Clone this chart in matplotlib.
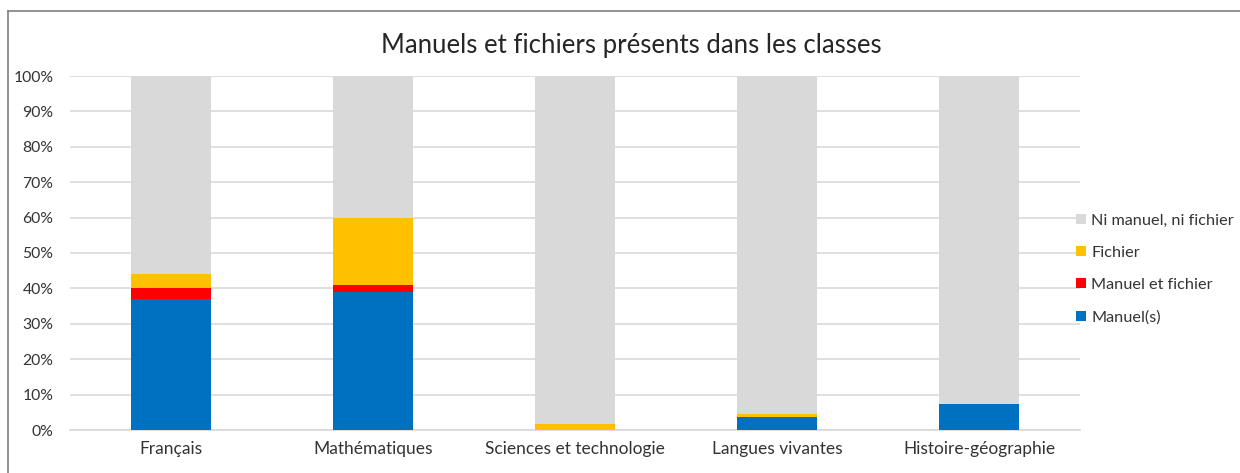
import matplotlib
matplotlib.use("Agg")
import matplotlib.pyplot as plt
from matplotlib.lines import Line2D
import numpy as np

plt.rcParams['font.family'] = ['Lato', 'DejaVu Sans']

categories = ["Français", "Mathématiques", "Sciences et technologie", "Langues vivantes", "Histoire-géographie"]
manuels = [37, 39, 0, 3.7, 7.4]
manuel_et_fichier = [3, 2, 0, 0, 0]
fichier = [4, 19, 1.8, 0.9, 0]
series_names = ["Manuel(s)", "Manuel et fichier", "Fichier", "Ni manuel, ni fichier"]
colors = ["#0070C0", "#FF0000", "#FFC000", "#D9D9D9"]
yticks = [0, 10, 20, 30, 40, 50, 60, 70, 80, 90, 100]
title = "Manuels et fichiers présents dans les classes"

ni = [100 - a - b - c for a, b, c in zip(manuels, manuel_et_fichier, fichier)]
series = [manuels, manuel_et_fichier, fichier, ni]

W, H = 1240, 473
fig = plt.figure(figsize=(W / 100, H / 100), dpi=100)
ax = fig.add_axes([70 / W, (H - 430) / H, (1080 - 70) / W, (430 - 76) / H])

x = np.arange(len(categories))
bottom = np.zeros(len(categories))
handles = []
for vals, name, col in zip(series, series_names, colors):
    b = ax.bar(x, vals, bottom=bottom, width=0.4, color=col, label=name, zorder=3)
    handles.append(b)
    bottom += np.array(vals)

ax.set_xlim(-0.5, len(categories) - 0.5)
ax.set_ylim(0, 100)
ax.set_yticks(yticks)
ax.set_yticklabels([f"{v}%" for v in yticks])
ax.set_xticks(x)
ax.set_xticklabels(categories)
ax.yaxis.grid(True, color="#D9D9D9", linewidth=1.2, zorder=0)
ax.set_axisbelow(True)
for s in ["top", "right", "left"]:
    ax.spines[s].set_visible(False)
ax.spines["bottom"].set_color("#D9D9D9")
ax.spines["bottom"].set_linewidth(1.2)
ax.tick_params(axis="both", length=0, colors="#333333")
ax.tick_params(axis="y", pad=12, labelsize=11.3)
ax.tick_params(axis="x", pad=8, labelsize=12.5)

fig.text(631 / W, (H - 45) / H, title, ha="center", va="center", fontsize=18.5, color="#262626")

leg = fig.legend(handles[::-1], series_names[::-1], loc="center left",
                 bbox_to_anchor=(1076 / W, (H - 269) / H), frameon=False,
                 fontsize=11.7, labelspacing=1.12, handlelength=0.6, handleheight=0.6,
                 handletextpad=0.35, borderpad=0, borderaxespad=0, labelcolor="#333333")

fig.add_artist(Line2D([8 / W, 8 / W], [0, (H - 11) / H], transform=fig.transFigure, color="#7F7F7F", linewidth=1.2))
fig.add_artist(Line2D([8 / W, 1], [(H - 11) / H, (H - 11) / H], transform=fig.transFigure, color="#7F7F7F", linewidth=1.2))

fig.savefig("out.png", dpi=100)
